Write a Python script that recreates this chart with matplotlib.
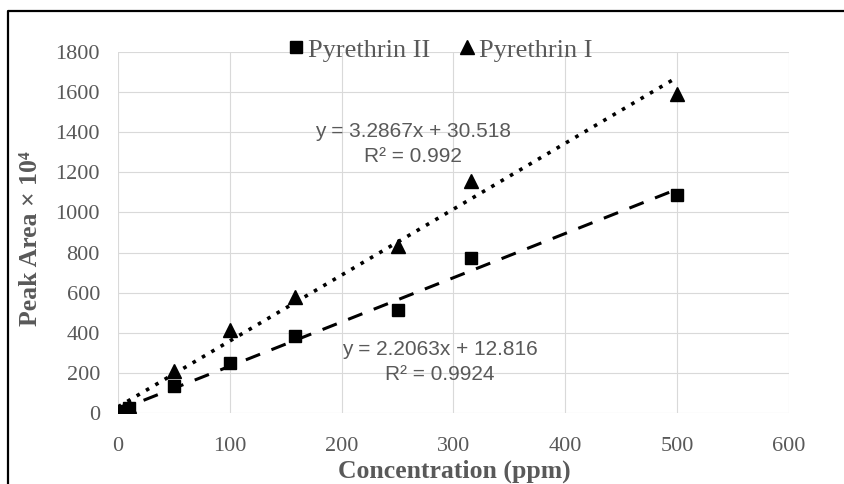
import numpy as np
import matplotlib.pyplot as plt
from matplotlib.lines import Line2D

# Data
conc = [1, 5, 10, 50, 100, 158, 250, 316, 500]
pyr2 = [3, 12, 25, 135, 250, 385, 515, 775, 1085]
pyr1 = [5, 18, 35, 210, 415, 580, 835, 1155, 1590]

# Trendline coefficients (slope, intercept) as printed
fit1 = (3.2867, 30.518)
fit2 = (2.2063, 12.816)

gray = '#595959'
serif = ['Liberation Serif', 'DejaVu Serif']

fig = plt.figure(figsize=(8.45, 4.84), dpi=100)
ax = fig.add_axes([118 / 845, 1 - 413 / 484, (789 - 118) / 845, (413 - 52) / 484])

xl = np.array([0, 500])
ax.plot(xl, fit1[0] * xl + fit1[1], color='black', linestyle=(0, (1, 2)), linewidth=2.6, zorder=2)
ax.plot(xl, fit2[0] * xl + fit2[1], color='black', linestyle=(0, (5, 4)), linewidth=2.2, zorder=2)

ax.plot(conc, pyr2, 's', color='black', markersize=8, label='Pyrethrin II', zorder=3)
ax.plot(conc, pyr1, '^', color='black', markersize=10, label='Pyrethrin I', zorder=3)

ax.set_xlim(0, 600)
ax.set_ylim(0, 1800)
ax.set_xticks(range(0, 601, 100))
ax.set_yticks(range(0, 1801, 200))
ax.grid(True, color='#d9d9d9', linewidth=0.8)
ax.set_axisbelow(True)
for s in ax.spines.values():
    s.set_visible(False)
ax.tick_params(length=0, labelsize=16, labelcolor=gray)
ax.tick_params(axis='x', pad=17)
ax.tick_params(axis='y', pad=13)
for lab in ax.get_xticklabels() + ax.get_yticklabels():
    lab.set_family(serif)

ax.text(0.44, 0.745, 'y = 3.2867x + 30.518\nR² = 0.992', transform=ax.transAxes,
        ha='center', va='center', fontsize=15, color=gray, linespacing=1.35,
        family='Liberation Sans')
ax.text(0.48, 0.141, 'y = 2.2063x + 12.816\nR² = 0.9924', transform=ax.transAxes,
        ha='center', va='center', fontsize=15, color=gray, linespacing=1.35,
        family='Liberation Sans')

fig.text(454 / 845, 1 - 471 / 484, 'Concentration (ppm)', ha='center', va='center',
         fontsize=18.5, fontweight='bold', color=gray, family=serif)
fig.text(31 / 845, 1 - 239 / 484, 'Peak Area × 10⁴', ha='center', va='center', rotation=90,
         fontsize=18.5, fontweight='bold', color=gray, family=serif)

leg = ax.legend(loc='center', bbox_to_anchor=(0.48, 1.0 + 2 / 361), ncol=2, frameon=False,
                prop={'family': serif, 'size': 19}, handletextpad=0.15,
                columnspacing=1.1, handlelength=0.6, borderpad=0)
for t in leg.get_texts():
    t.set_color(gray)

# partial frame around the figure (top and left edges)
fig.lines.append(Line2D([8 / 845, 8 / 845, 1], [0, 1 - 11 / 484, 1 - 11 / 484],
                        transform=fig.transFigure, color='black', linewidth=1.6))

fig.savefig('out.png', dpi=100)
